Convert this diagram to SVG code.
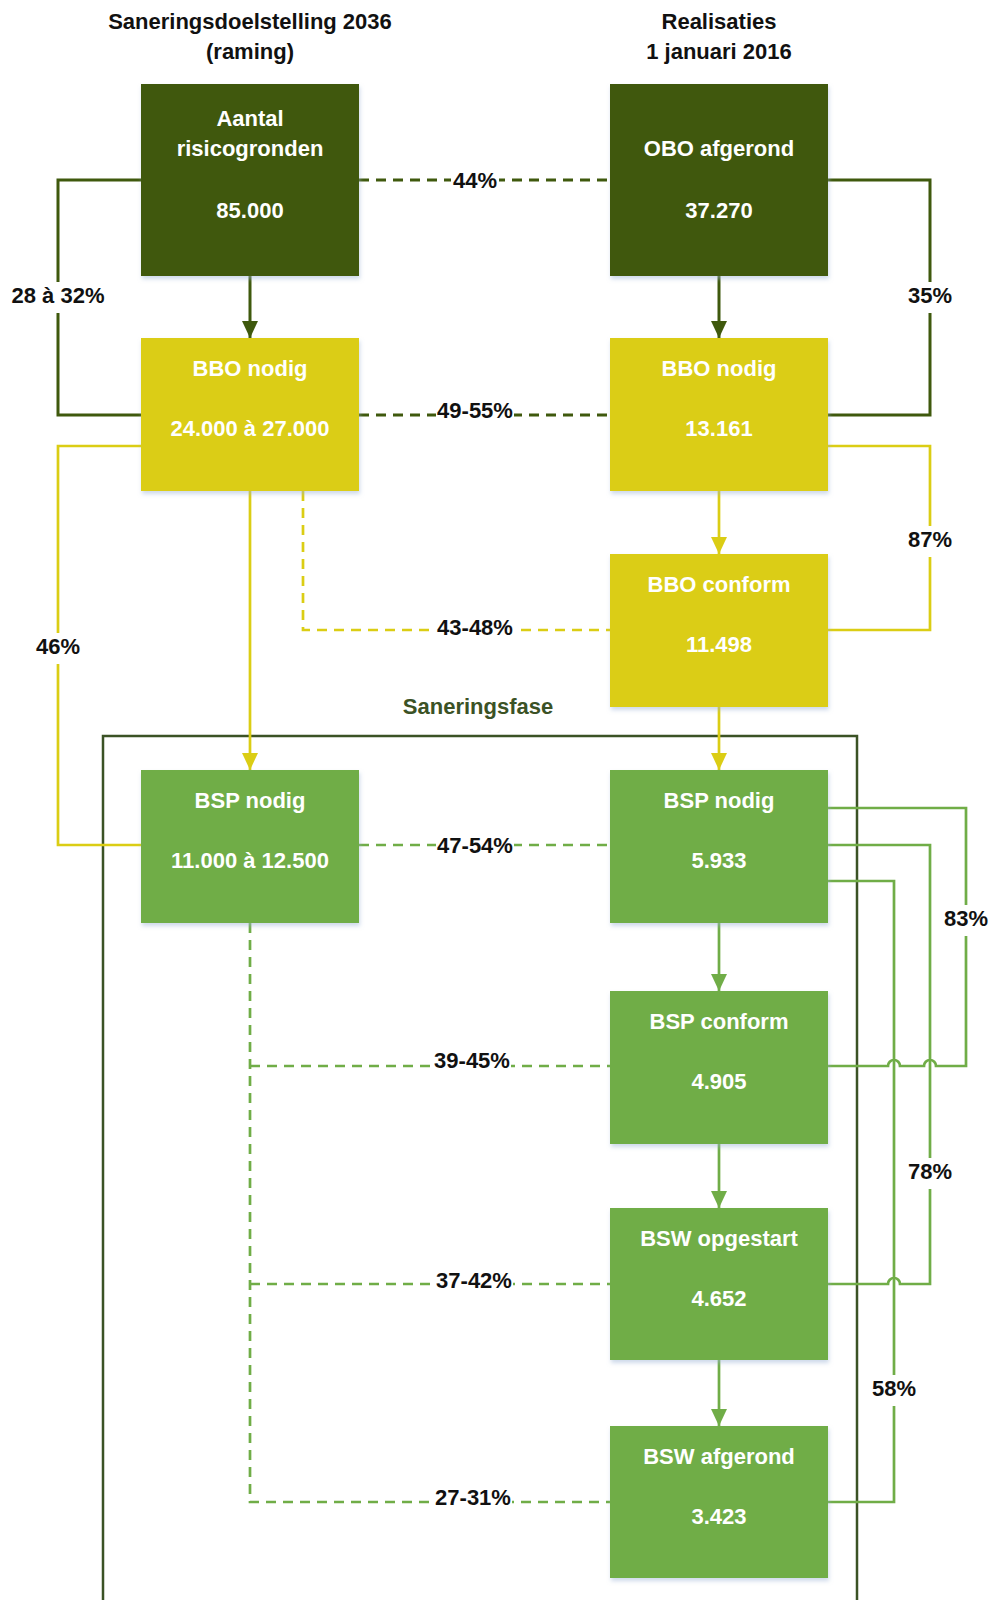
<svg xmlns="http://www.w3.org/2000/svg" width="994" height="1600" viewBox="0 0 994 1600">
<style>
text{font-family:"Liberation Sans",Arial,sans-serif;font-weight:bold;font-size:22px;text-anchor:middle}
.title{fill:#111}
.lbl{fill:#111}
.bt{fill:#fff}
.dk{fill:#3f590d}
.yl{fill:#dbcd14}
.gr{fill:#70ad47}
.c{fill:none;stroke-linejoin:miter}
.cdk{stroke:#3f590d;stroke-width:3}
.cyl{stroke:#dbcd14;stroke-width:2.7}
.cgr{stroke:#70ad47;stroke-width:2.7}
.dash{stroke-dasharray:10 7}
.bg{fill:#fff}
.fase{fill:none;stroke:#3b5225;stroke-width:2.5}
</style>
<defs>
<filter id="sh" x="-10%" y="-10%" width="120%" height="130%">
<feDropShadow dx="1" dy="3" stdDeviation="2" flood-color="#9db3d6" flood-opacity="0.5"/>
</filter>
<marker id="adk" markerUnits="userSpaceOnUse" markerWidth="18" markerHeight="18" refX="17" refY="8" orient="auto"><path d="M0,0 L17,8 L0,16 Z" fill="#3f590d"/></marker>
<marker id="ayl" markerUnits="userSpaceOnUse" markerWidth="18" markerHeight="18" refX="17" refY="8" orient="auto"><path d="M0,0 L17,8 L0,16 Z" fill="#dbcd14"/></marker>
<marker id="agr" markerUnits="userSpaceOnUse" markerWidth="18" markerHeight="18" refX="17" refY="8" orient="auto"><path d="M0,0 L17,8 L0,16 Z" fill="#70ad47"/></marker>
</defs>
<rect width="994" height="1600" fill="#fff"/>

<g id="titles">
<text class="title" x="250" y="29">Saneringsdoelstelling 2036</text>
<text class="title" x="250" y="59">(raming)</text>
<text class="title" x="719" y="29">Realisaties</text>
<text class="title" x="719" y="59">1 januari 2016</text>
</g>

<g id="saneringsfase">
<rect class="fase" x="103" y="736" width="754" height="900"/>
<text x="478" y="714" fill="#3b5225">Saneringsfase</text>
</g>

<g id="connectors">
<path class="c cdk dash" d="M359,180 H610"/>
<path class="c cdk" d="M141,180 H58 V415 H141"/>
<path class="c cdk" d="M828,180 H930 V415 H828"/>
<path class="c cdk dash" d="M359,415 H610"/>
<path class="c cdk" d="M250,276 V338" marker-end="url(#adk)"/>
<path class="c cdk" d="M719,276 V338" marker-end="url(#adk)"/>
<path class="c cyl" d="M141,446 H58 V845 H141"/>
<path class="c cyl" d="M250,491 V770" marker-end="url(#ayl)"/>
<path class="c cyl dash" d="M303,491 V630 H610"/>
<path class="c cyl" d="M719,491 V554" marker-end="url(#ayl)"/>
<path class="c cyl" d="M828,446 H930 V630 H828"/>
<path class="c cyl" d="M719,707 V770" marker-end="url(#ayl)"/>
<path class="c cgr dash" d="M359,845 H610"/>
<path class="c cgr dash" d="M250,923 V1502 H610"/>
<path class="c cgr dash" d="M250,1066 H610"/>
<path class="c cgr dash" d="M250,1284 H610"/>
<path class="c cgr" d="M719,923 V991" marker-end="url(#agr)"/>
<path class="c cgr" d="M719,1144 V1208" marker-end="url(#agr)"/>
<path class="c cgr" d="M719,1360 V1426" marker-end="url(#agr)"/>
<path class="c cgr" d="M828,808 H966 V1066 H936 A6,6 0 0 0 924,1066 H900 A6,6 0 0 0 888,1066 H828"/>
<path class="c cgr" d="M828,845 H930 V1284 H900 A6,6 0 0 0 888,1284 H828"/>
<path class="c cgr" d="M828,881 H894 V1502 H828"/>
</g>

<g id="labels">
<rect class="bg" x="451" y="174" width="48" height="12"/><text class="lbl" x="475" y="188">44%</text>
<rect class="bg" x="436" y="409" width="78" height="12"/><text class="lbl" x="475" y="418">49-55%</text>
<rect class="bg" x="436" y="624" width="78" height="12"/><text class="lbl" x="475" y="635">43-48%</text>
<rect class="bg" x="436" y="839" width="78" height="12"/><text class="lbl" x="475" y="853">47-54%</text>
<rect class="bg" x="433" y="1060" width="78" height="12"/><text class="lbl" x="472" y="1068">39-45%</text>
<rect class="bg" x="435" y="1278" width="78" height="12"/><text class="lbl" x="474" y="1288">37-42%</text>
<rect class="bg" x="434" y="1496" width="78" height="12"/><text class="lbl" x="473" y="1505">27-31%</text>
<rect class="bg" x="52" y="282" width="12" height="31"/><text class="lbl" x="58" y="303">28 à 32%</text>
<rect class="bg" x="924" y="282" width="12" height="31"/><text class="lbl" x="930" y="303">35%</text>
<rect class="bg" x="52" y="633" width="12" height="31"/><text class="lbl" x="58" y="654">46%</text>
<rect class="bg" x="924" y="526" width="12" height="31"/><text class="lbl" x="930" y="547">87%</text>
<rect class="bg" x="960" y="905" width="12" height="31"/><text class="lbl" x="966" y="926">83%</text>
<rect class="bg" x="924" y="1158" width="12" height="31"/><text class="lbl" x="930" y="1179">78%</text>
<rect class="bg" x="888" y="1375" width="12" height="31"/><text class="lbl" x="894" y="1396">58%</text>
</g>

<g id="n-risicogronden"><rect class="dk" x="141" y="84" width="218" height="192" filter="url(#sh)"/>
<text class="bt" x="250" y="126">Aantal</text><text class="bt" x="250" y="156">risicogronden</text><text class="bt" x="250" y="218">85.000</text></g>
<g id="n-obo-afgerond"><rect class="dk" x="610" y="84" width="218" height="192" filter="url(#sh)"/>
<text class="bt" x="719" y="156">OBO afgerond</text><text class="bt" x="719" y="218">37.270</text></g>

<g id="n-bbo-nodig-doel"><rect class="yl" x="141" y="338" width="218" height="153" filter="url(#sh)"/>
<text class="bt" x="250" y="376">BBO nodig</text><text class="bt" x="250" y="436">24.000 à 27.000</text></g>
<g id="n-bbo-nodig-real"><rect class="yl" x="610" y="338" width="218" height="153" filter="url(#sh)"/>
<text class="bt" x="719" y="376">BBO nodig</text><text class="bt" x="719" y="436">13.161</text></g>
<g id="n-bbo-conform"><rect class="yl" x="610" y="554" width="218" height="153" filter="url(#sh)"/>
<text class="bt" x="719" y="592">BBO conform</text><text class="bt" x="719" y="652">11.498</text></g>

<g id="n-bsp-nodig-doel"><rect class="gr" x="141" y="770" width="218" height="153" filter="url(#sh)"/>
<text class="bt" x="250" y="808">BSP nodig</text><text class="bt" x="250" y="868">11.000 à 12.500</text></g>
<g id="n-bsp-nodig-real"><rect class="gr" x="610" y="770" width="218" height="153" filter="url(#sh)"/>
<text class="bt" x="719" y="808">BSP nodig</text><text class="bt" x="719" y="868">5.933</text></g>
<g id="n-bsp-conform"><rect class="gr" x="610" y="991" width="218" height="153" filter="url(#sh)"/>
<text class="bt" x="719" y="1029">BSP conform</text><text class="bt" x="719" y="1089">4.905</text></g>
<g id="n-bsw-opgestart"><rect class="gr" x="610" y="1208" width="218" height="152" filter="url(#sh)"/>
<text class="bt" x="719" y="1246">BSW opgestart</text><text class="bt" x="719" y="1306">4.652</text></g>
<g id="n-bsw-afgerond"><rect class="gr" x="610" y="1426" width="218" height="152" filter="url(#sh)"/>
<text class="bt" x="719" y="1464">BSW afgerond</text><text class="bt" x="719" y="1524">3.423</text></g>
</svg>
